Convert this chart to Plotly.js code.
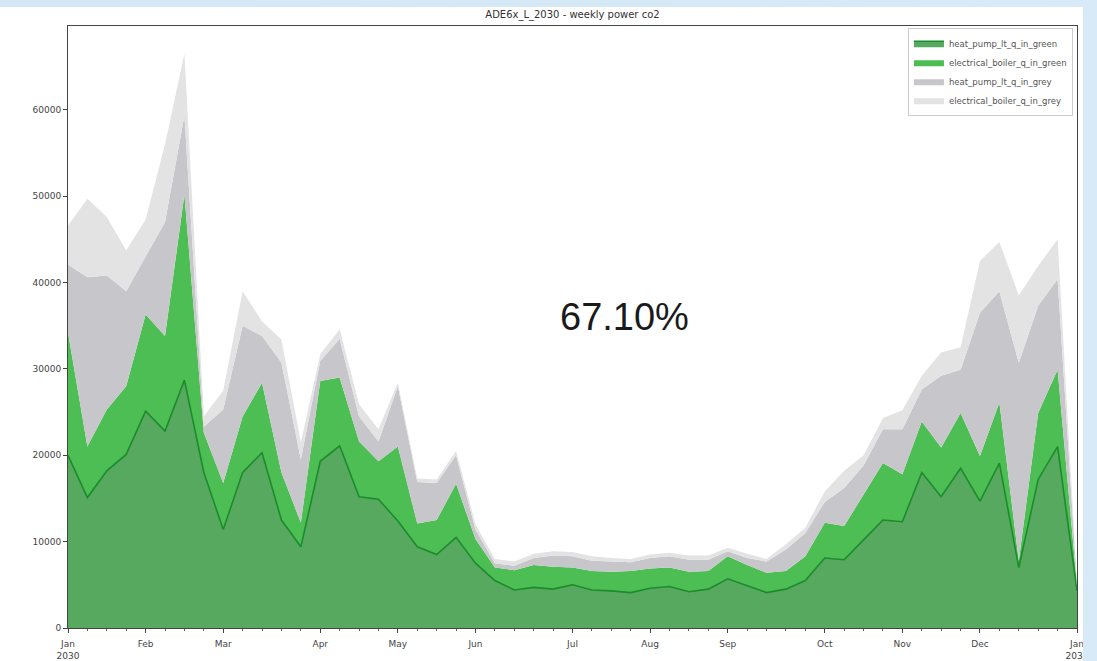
<!DOCTYPE html>
<html>
<head>
<meta charset="utf-8">
<script src="https://cdn.plot.ly/plotly-3.0.1.min.js"></script>
<style>
  html, body { margin: 0; padding: 0; width: 1097px; height: 661px; overflow: hidden;
    background: linear-gradient(to right, #d3e7f6 0%, #d8eaf7 100%); }
  #chart { position: absolute; left: 0; top: 7px; width: 1083px; height: 654px; background: #fff; }
</style>
</head>
<body>
<div id="chart"></div>
<script>
// Week index (0 = week of 31 Dec 2029 ... 52 = week of 30 Dec 2030)
const weeks = [0,1,2,3,4,5,6,7,8,9,10,11,12,13,14,15,16,17,18,19,20,21,22,23,24,25,26,
               27,28,29,30,31,32,33,34,35,36,37,38,39,40,41,42,43,44,45,46,47,48,49,50,51,52];

const heatPumpGreen = [20000,15100,18200,20100,25100,22800,28700,18000,11400,18000,20300,12500,9400,
  19300,21100,15200,14900,12400,9400,8500,10500,7500,5500,4400,4700,4500,5000,
  4400,4300,4100,4600,4800,4200,4500,5700,4900,4100,4500,5500,8100,7900,10200,12500,
  12300,18000,15200,18500,14700,19100,7000,17200,21000,4300];

const elecBoilerGreen = [14200,5900,7100,7900,11200,11000,21500,4600,5400,6500,8100,5500,2800,
  9300,7900,6400,4400,8600,2700,4000,6200,2800,1500,2300,2600,2600,2000,
  2200,2200,2500,2300,2200,2300,2100,2600,2400,2300,2100,2800,4100,3900,5200,6600,
  5500,5900,5700,6400,5200,7000,800,7700,8900,600];

const heatPumpGrey = [7900,19600,15500,11000,6700,13200,9100,700,8500,10500,5400,12700,7300,
  2300,4500,2900,2300,7000,4800,4300,3300,1100,500,500,800,1300,1300,
  1200,1200,1000,1200,1300,1400,1300,600,800,1300,2500,2700,2400,4400,3400,3900,
  5200,3700,8300,5000,16600,12900,22900,12400,10500,200];

const elecBoilerGrey = [4500,9100,6800,4700,4300,9000,7200,1200,2200,4000,1700,2700,2000,
  800,1100,1400,1400,400,400,400,500,600,500,500,500,500,500,
  500,400,400,400,400,500,500,400,500,300,600,600,1200,2000,1200,1300,
  2200,1600,2700,2600,6000,5700,7800,4600,4600,100];

const seriesNames = ['heat_pump_lt_q_in_green','electrical_boiler_q_in_green','heat_pump_lt_q_in_grey','electrical_boiler_q_in_grey'];

const tickWeeks = [0,4,8,13,17,21,26,30,34,39,43,47,52];
const tickLabels = ['Jan<br>2030','Feb','Mar','Apr','May','Jun','Jul','Aug','Sep','Oct','Nov','Dec','Jan<br>2031'];
const yTicks = [0,10000,20000,30000,40000,50000,60000];

const titleText = 'ADE6x_L_2030 - weekly power co2';
const shareText = '67.10%';

const font = 'DejaVu Sans, sans-serif';

const traces = [
  {x: weeks, y: heatPumpGreen, name: seriesNames[0], type: 'scatter', mode: 'lines', stackgroup: 'one',
   line: {color: '#1c8b2c', width: 1.6}, fillcolor: '#56a95e'},
  {x: weeks, y: elecBoilerGreen, name: seriesNames[1], type: 'scatter', mode: 'lines', stackgroup: 'one',
   line: {color: '#4cbe53', width: 0}, fillcolor: '#4cbe53'},
  {x: weeks, y: heatPumpGrey, name: seriesNames[2], type: 'scatter', mode: 'lines', stackgroup: 'one',
   line: {color: '#c7c6ca', width: 0}, fillcolor: '#c7c6ca'},
  {x: weeks, y: elecBoilerGrey, name: seriesNames[3], type: 'scatter', mode: 'lines', stackgroup: 'one',
   line: {color: '#e3e3e4', width: 0}, fillcolor: '#e3e3e4'}
];

const layout = {
  width: 1083, height: 654,
  paper_bgcolor: '#ffffff', plot_bgcolor: '#ffffff',
  margin: {l: 68, r: 6, t: 19, b: 33, pad: 0},
  font: {family: font, size: 9, color: '#444'},
  title: {text: titleText, font: {family: font, size: 10, color: '#333'},
          x: 0.5286, xanchor: 'center', y: 0.988, yanchor: 'middle', yref: 'container'},
  showlegend: true,
  legend: {x: 0.996, y: 0.997, xanchor: 'right', yanchor: 'top', bgcolor: '#ffffff',
           bordercolor: '#cccccc', borderwidth: 1, traceorder: 'normal', itemwidth: 30,
           font: {family: font, size: 8.5, color: '#555'}},
  xaxis: {range: [0, 52], tickmode: 'array', tickvals: tickWeeks, ticktext: tickLabels,
          showgrid: false, zeroline: false, showline: true, mirror: true, linecolor: '#444', linewidth: 1,
          ticks: 'outside', ticklen: 4, tickcolor: '#444', ticklabeloverflow: 'allow', ticklabelstandoff: 3,
          minor: {tickmode: 'linear', tick0: 0, dtick: 1, ticks: 'outside', ticklen: 2, tickcolor: '#666', showgrid: false},
          tickfont: {family: font, size: 9, color: '#444'}},
  yaxis: {range: [0, 69700], tickmode: 'array', tickvals: yTicks, tickformat: 'd',
          showgrid: false, zeroline: false, showline: true, mirror: true, linecolor: '#444', linewidth: 1,
          ticks: 'outside', ticklen: 4, tickcolor: '#444',
          tickfont: {family: font, size: 9, color: '#444'}},
  annotations: [{text: shareText, xref: 'paper', yref: 'paper', x: 0.552, y: 0.516,
                 xanchor: 'center', yanchor: 'middle', showarrow: false,
                 font: {family: 'Liberation Sans, Arial, sans-serif', size: 38, color: '#1a1a1a'}}]
};

Plotly.newPlot('chart', traces, layout, {displayModeBar: false, staticPlot: true});
</script>
</body>
</html>
